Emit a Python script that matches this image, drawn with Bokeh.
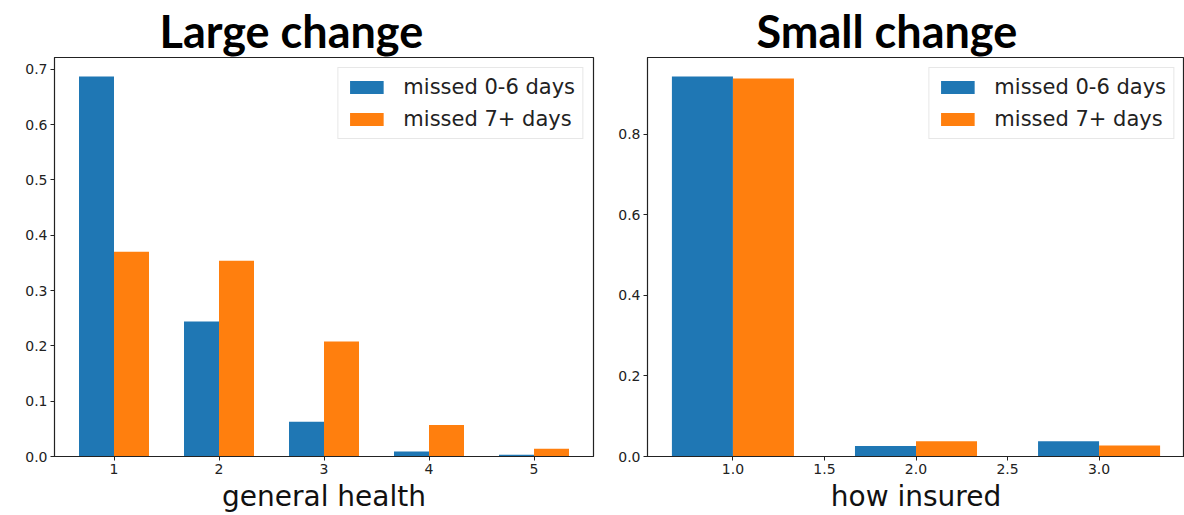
from bokeh.plotting import figure
from bokeh.layouts import row
from bokeh.models import FixedTicker, PrintfTickFormatter, ColumnDataSource, Range1d
from bokeh.transform import dodge
from bokeh.embed import file_html
from bokeh.resources import INLINE

# ---- data ----
health_cats = [1, 2, 3, 4, 5]
health_short = [0.687, 0.244, 0.063, 0.009, 0.003]
health_long = [0.370, 0.354, 0.208, 0.057, 0.014]

insured_cats = [1, 2, 3]
insured_short = [0.943, 0.026, 0.038]
insured_long = [0.938, 0.038, 0.027]

series_labels = ["missed 0-6 days", "missed 7+ days"]
left_yticks = [0.0, 0.1, 0.2, 0.3, 0.4, 0.5, 0.6, 0.7]
right_yticks = [0.0, 0.2, 0.4, 0.6, 0.8]
left_xticks = [1, 2, 3, 4, 5]
right_xticks = [1.0, 1.5, 2.0, 2.5, 3.0]

BLUE = "#1f77b4"
ORANGE = "#ff7f0e"
W = 1 / 3


def make(title, xlabel, cats, s, l, xticks, yticks, xfmt, width, bl, br, title_offset):
    src = ColumnDataSource(dict(x=cats, s=s, l=l))
    lo = min(cats) - W
    hi = max(cats) + W
    m = (hi - lo) * 0.05
    ymax = max(max(s), max(l)) * 1.05
    p = figure(width=width, height=515, output_backend="svg", toolbar_location=None,
               x_range=Range1d(lo - m, hi + m), y_range=Range1d(0, ymax),
               min_border_left=bl, min_border_right=br, min_border_top=57,
               min_border_bottom=10)
    p.vbar(x=dodge("x", -W / 2), top="s", width=W, source=src, color=BLUE,
           line_color=None, legend_label=series_labels[0])
    p.vbar(x=dodge("x", W / 2), top="l", width=W, source=src, color=ORANGE,
           line_color=None, legend_label=series_labels[1])
    p.title.text = title
    p.title.text_font = "Lato"
    p.title.text_font_style = "bold"
    p.title.text_font_size = "45px"
    p.title.text_color = "#000000"
    p.title.text_line_height = 0.85
    p.title.align = "left"
    p.title.offset = title_offset
    p.title.standoff = 0
    p.xgrid.visible = False
    p.ygrid.visible = False
    p.outline_line_color = "#222222"
    p.outline_line_alpha = 1
    p.outline_line_width = 1.2
    p.xaxis.ticker = FixedTicker(ticks=xticks)
    p.yaxis.ticker = FixedTicker(ticks=yticks)
    p.xaxis.formatter = PrintfTickFormatter(format=xfmt)
    p.yaxis.formatter = PrintfTickFormatter(format="%.1f")
    for ax in (p.xaxis[0], p.yaxis[0]):
        ax.axis_line_color = "#222222"
        ax.major_tick_line_color = "#222222"
        ax.major_tick_in = 0
        ax.major_tick_out = 4
        ax.minor_tick_line_color = None
        ax.major_label_text_font = "DejaVu Sans"
        ax.major_label_text_font_size = "14px"
        ax.major_label_text_color = "#222222"
        ax.major_label_standoff = 3
    p.xaxis.axis_label = xlabel
    p.xaxis.axis_label_text_font = "DejaVu Sans"
    p.xaxis.axis_label_text_font_size = "28px"
    p.xaxis.axis_label_text_font_style = "normal"
    p.xaxis.axis_label_text_color = "#111111"
    p.xaxis.axis_label_standoff = 3
    lg = p.legend[0]
    lg.location = "top_right"
    lg.margin = 10
    lg.padding = 7
    lg.spacing = 8
    lg.label_standoff = 16
    lg.glyph_width = 42
    lg.glyph_height = 16
    lg.label_text_font = "DejaVu Sans"
    lg.label_text_font_size = "21px"
    lg.label_text_color = "#222222"
    lg.border_line_color = "#d0d0d0"
    lg.background_fill_alpha = 0.9
    return p


p1 = make("Large change", "general health", health_cats, health_short, health_long,
          left_xticks, left_yticks, "%d", 600, 54, 7, 105)
p2 = make("Small change", "how insured", insured_cats, insured_short, insured_long,
          right_xticks, right_yticks, "%.1f", 584, 47, 0, 109)

p = row(p1, p2)
open("out.html", "w").write(file_html(p, INLINE))
